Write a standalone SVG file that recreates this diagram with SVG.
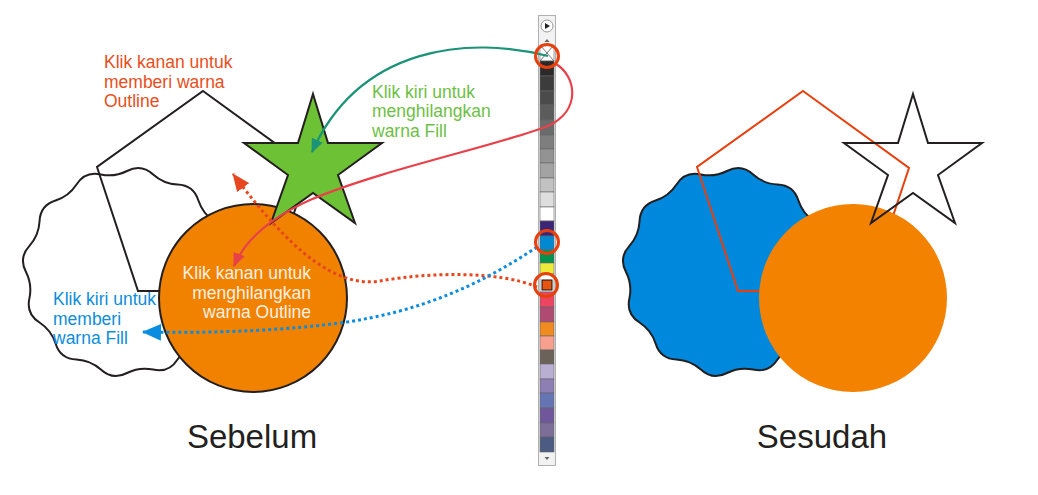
<svg xmlns="http://www.w3.org/2000/svg" width="1038" height="495" viewBox="0 0 1038 495">
<style>
text{font-family:"Liberation Sans",Arial,sans-serif}
.lbl{font-size:17.5px}
.title{font-size:33px;fill:#231f20;text-anchor:middle}
.ol{stroke:#231f20;stroke-width:2;stroke-linejoin:miter}
.sw{stroke:#666;stroke-width:0.6}
.ring{fill:none;stroke:#e8400c;stroke-width:3}
.dot{fill:none;stroke-width:3;stroke-dasharray:3 3}
</style>
<defs>
<path id="blob" d="M 101 0 Q 108.56 14.29 97.56 26.14 Q 88.23 36.55 87.47 50.5 Q 86.87 66.66 71.42 71.42 Q 58.14 75.76 50.5 87.47 Q 41.9 101.16 26.14 97.56 Q 12.47 94.68 0 101 Q -14.29 108.56 -26.14 97.56 Q -36.55 88.23 -50.5 87.47 Q -66.66 86.87 -71.42 71.42 Q -75.76 58.14 -87.47 50.5 Q -101.16 41.9 -97.56 26.14 Q -94.68 12.47 -101 0 Q -108.56 -14.29 -97.56 -26.14 Q -88.23 -36.55 -87.47 -50.5 Q -86.87 -66.66 -71.42 -71.42 Q -58.14 -75.76 -50.5 -87.47 Q -41.9 -101.16 -26.14 -97.56 Q -12.47 -94.68 0 -101 Q 14.29 -108.56 26.14 -97.56 Q 36.55 -88.23 50.5 -87.47 Q 66.66 -86.87 71.42 -71.42 Q 75.76 -58.14 87.47 -50.5 Q 101.16 -41.9 97.56 -26.14 Q 94.68 -12.47 101 0 Z"/>
<polygon id="pent" points="203,91 309,168 268,291 138,291 97,167"/>
<polygon id="star" points="313,94 328,143 382,143 338,175 355,223 313,193 271,223 288,175 244,143 298,143"/>
<marker id="mTeal" viewBox="0 0 14 12" refX="13" refY="6" markerWidth="14" markerHeight="12" orient="auto" markerUnits="userSpaceOnUse"><path d="M0,0 L14,6 L0,12 Z" fill="#1b9377"/></marker>
<marker id="mRed" viewBox="0 0 14 12" refX="13" refY="6" markerWidth="14" markerHeight="12" orient="auto" markerUnits="userSpaceOnUse"><path d="M0,0 L14,6 L0,12 Z" fill="#e8414a"/></marker>
<marker id="mOrange" viewBox="0 0 18 15" refX="17" refY="7.5" markerWidth="18" markerHeight="15" orient="auto" markerUnits="userSpaceOnUse"><path d="M0,0 L18,7.5 L0,15 Z" fill="#e8461e"/></marker>
<marker id="mBlue" viewBox="0 0 19 17" refX="18" refY="8.5" markerWidth="19" markerHeight="17" orient="auto" markerUnits="userSpaceOnUse"><path d="M0,0 L19,8.5 L0,17 Z" fill="#0a8de0"/></marker>
</defs>
<rect width="1038" height="495" fill="#fff"/>

<!-- Sebelum -->
<g id="before-blob"><use href="#blob" transform="translate(127,272)" fill="none" class="ol"/></g>
<g id="before-pentagon"><use href="#pent" fill="none" class="ol"/></g>
<g id="before-circle"><circle cx="253" cy="298" r="94" fill="#f08200" class="ol"/></g>
<g id="before-star"><use href="#star" fill="#6cc134" class="ol"/></g>

<!-- Sesudah -->
<g id="after-blob"><use href="#blob" transform="translate(727,272)" fill="#0088dd" class="ol"/></g>
<g id="after-pentagon"><use href="#pent" transform="translate(600,0)" fill="none" stroke="#e8400c" stroke-width="2"/></g>
<g id="after-circle"><circle cx="853" cy="298" r="94" fill="#f28200"/></g>
<g id="after-star"><use href="#star" transform="translate(600,0)" fill="none" class="ol"/></g>

<!-- palette -->
<g id="palette">
<rect x="538.5" y="15.5" width="17" height="450" fill="#f2f2f2" stroke="#b0b0b0"/>
<circle cx="547" cy="26" r="6" fill="#fff" stroke="#999"/>
<path d="M545 23 L550 26 L545 29 Z" fill="#222"/>
<path d="M544.5 42 L547 39 L549.5 42 Z" fill="#666"/>
<rect x="540" y="45" width="14" height="16" fill="#fff" class="sw"/>
<path d="M540 45 L554 61 M554 45 L540 61" stroke="#555" stroke-width="0.8"/>
<rect x="540" y="61" width="14" height="15" fill="#2a2a2a" class="sw"/>
<rect x="540" y="76" width="14" height="15" fill="#3c3c3c" class="sw"/>
<rect x="540" y="91" width="14" height="14" fill="#4b4b4b" class="sw"/>
<rect x="540" y="105" width="14" height="15" fill="#5c5c5c" class="sw"/>
<rect x="540" y="120" width="14" height="15" fill="#6b6b6b" class="sw"/>
<rect x="540" y="135" width="14" height="14" fill="#7e7e7e" class="sw"/>
<rect x="540" y="149" width="14" height="14" fill="#939393" class="sw"/>
<rect x="540" y="163" width="14" height="15" fill="#a3a3a3" class="sw"/>
<rect x="540" y="178" width="14" height="14" fill="#c2c2c2" class="sw"/>
<rect x="540" y="192" width="14" height="15" fill="#dedede" class="sw"/>
<rect x="540" y="207" width="14" height="14" fill="#ffffff" class="sw"/>
<rect x="540" y="221" width="14" height="15" fill="#3b2576" class="sw"/>
<rect x="540" y="236" width="14" height="14" fill="#0088d1" class="sw"/>
<rect x="540" y="250" width="14" height="13" fill="#00934f" class="sw"/>
<rect x="540" y="263" width="14" height="11" fill="#eceb3c" class="sw"/>
<rect x="540" y="274" width="14" height="18" fill="#ffffff" class="sw"/>
<rect x="542" y="280" width="10" height="10" fill="#e85412" stroke="#111" stroke-width="1"/>
<rect x="540" y="292" width="14" height="15" fill="#ed4461" class="sw"/>
<rect x="540" y="307" width="14" height="15" fill="#b04a73" class="sw"/>
<rect x="540" y="322" width="14" height="14" fill="#f08b1f" class="sw"/>
<rect x="540" y="336" width="14" height="14" fill="#f7a08d" class="sw"/>
<rect x="540" y="350" width="14" height="14" fill="#6b6259" class="sw"/>
<rect x="540" y="364" width="14" height="15" fill="#b8afd2" class="sw"/>
<rect x="540" y="379" width="14" height="14" fill="#8d7fb4" class="sw"/>
<rect x="540" y="393" width="14" height="15" fill="#6574b5" class="sw"/>
<rect x="540" y="408" width="14" height="15" fill="#70579c" class="sw"/>
<rect x="540" y="423" width="14" height="14" fill="#7d6e99" class="sw"/>
<rect x="540" y="437" width="14" height="15" fill="#4c5b82" class="sw"/>
<path d="M544.5 457 L547 460 L549.5 457 Z" fill="#666"/>
</g>

<!-- connectors -->
<g id="connectors">
<path d="M 548 56 C 470 36, 360 45, 312 152" fill="none" stroke="#1b9377" stroke-width="2.2" marker-end="url(#mTeal)"/>
<path d="M 556 64 C 576 76, 582 110, 548 126 C 500 145, 380 170, 310 200 C 270 218, 245 240, 234 266" fill="none" stroke="#e8414a" stroke-width="2.2" marker-end="url(#mRed)"/>
<path d="M 537 287 C 500 271, 430 272, 380 281 C 335 288, 290 250, 233 174" class="dot" stroke="#e8461e" marker-end="url(#mOrange)"/>
<path d="M 537 247 C 480 285, 420 312, 340 323 C 270 332, 200 333, 143 332" class="dot" stroke="#0a8de0" marker-end="url(#mBlue)"/>
</g>

<g id="rings">
<circle cx="547" cy="56" r="11.5" class="ring"/>
<circle cx="547" cy="242" r="11.5" class="ring"/>
<circle cx="546" cy="285" r="11.5" class="ring"/>
</g>

<!-- labels -->
<g id="label-outline-right" class="lbl" fill="#e84e1b">
<text x="104" y="68">Klik kanan untuk</text>
<text x="104" y="87.5">memberi warna</text>
<text x="104" y="107">Outline</text>
</g>
<g id="label-fill-remove" class="lbl" fill="#6dbf44">
<text x="372" y="97.5">Klik kiri untuk</text>
<text x="372" y="117">menghilangkan</text>
<text x="372" y="136.5">warna Fill</text>
</g>
<g id="label-outline-remove" class="lbl" fill="#fdf0e2" text-anchor="end">
<text x="311" y="279">Klik kanan untuk</text>
<text x="311" y="298.5">menghilangkan</text>
<text x="311" y="318">warna Outline</text>
</g>
<g id="label-fill-left" class="lbl" fill="#0d8ddb">
<text x="53" y="305">Klik kiri untuk</text>
<text x="53" y="324.5">memberi</text>
<text x="53" y="344">warna Fill</text>
</g>
<text class="title" x="252" y="448">Sebelum</text>
<text class="title" x="822" y="448">Sesudah</text>
</svg>
